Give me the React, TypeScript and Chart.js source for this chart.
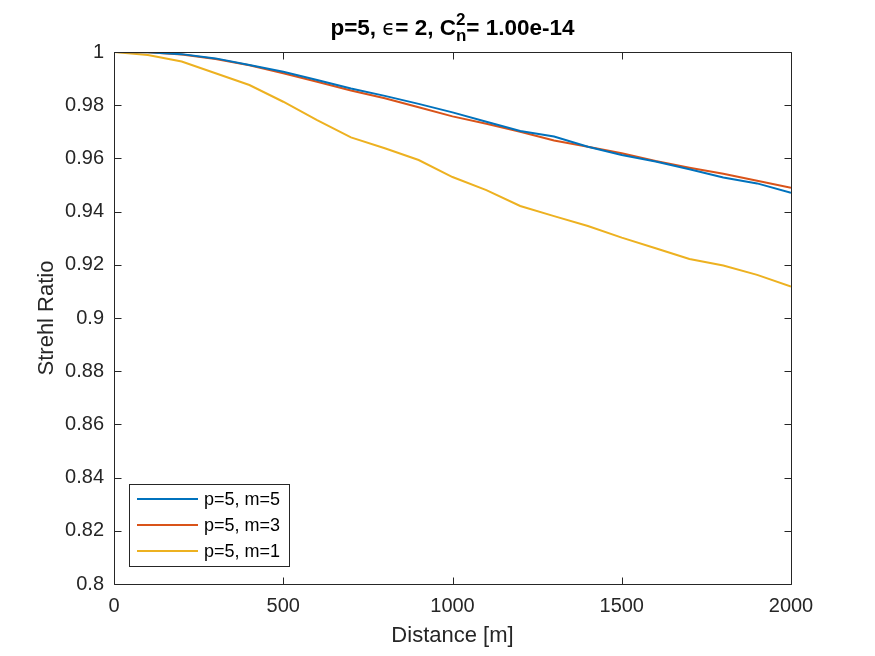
import { useEffect, useRef } from "react";
import { Chart, registerables } from "chart.js";

Chart.register(...registerables);

const W = 875;
const H = 656;

const distances = [0, 100, 200, 300, 400, 500, 600, 700, 800, 900, 1000, 1100, 1200, 1300, 1400, 1500, 1600, 1700, 1800, 1900, 2000];
const strehlM5 = [1.0, 0.9999, 0.9992, 0.9976, 0.9951, 0.9926, 0.9895, 0.9863, 0.9835, 0.9805, 0.9773, 0.9738, 0.9703, 0.9682, 0.9644, 0.9613, 0.9588, 0.9559, 0.9528, 0.9506, 0.9471];
const strehlM3 = [1.0, 0.9999, 0.9991, 0.9974, 0.995, 0.992, 0.9888, 0.9855, 0.9826, 0.9792, 0.9758, 0.973, 0.97, 0.9667, 0.9644, 0.9619, 0.959, 0.9565, 0.9542, 0.9516, 0.949];
const strehlM1 = [1.0, 0.9989, 0.9964, 0.992, 0.9876, 0.9813, 0.9744, 0.9679, 0.9638, 0.9594, 0.953, 0.9481, 0.9421, 0.9383, 0.9346, 0.9302, 0.9262, 0.9222, 0.9197, 0.9162, 0.9118];

const seriesLabels = ["p=5, m=5", "p=5, m=3", "p=5, m=1"];
const seriesColors = ["#0072BD", "#D95319", "#EDB120"];
const xTicks = [0, 500, 1000, 1500, 2000];
const yTicks = [0.8, 0.82, 0.84, 0.86, 0.88, 0.9, 0.92, 0.94, 0.96, 0.98, 1];

const FAMILY = '"Liberation Sans", Arial, Helvetica, sans-serif';
const AXIS_COLOR = "#262626";

const matlabPlugin = {
  id: "matlabDecor",
  afterDatasetsDraw(chart: any) {
    const { ctx, chartArea: a, scales } = chart;
    const xs = scales.x;
    const ys = scales.y;
    ctx.save();
    // axes box
    const L = Math.round(a.left) + 0.5;
    const R = Math.round(a.right) + 0.5;
    const T = Math.round(a.top) + 0.5;
    const B = Math.round(a.bottom) + 0.5;
    ctx.strokeStyle = AXIS_COLOR;
    ctx.lineWidth = 1;
    ctx.beginPath();
    ctx.rect(L, T, R - L, B - T);
    ctx.stroke();
    const tl = 7;
    ctx.beginPath();
    for (const v of xTicks) {
      const px = Math.round(xs.getPixelForValue(v)) + 0.5;
      ctx.moveTo(px, B);
      ctx.lineTo(px, B - tl);
      ctx.moveTo(px, T);
      ctx.lineTo(px, T + tl);
    }
    for (const v of yTicks) {
      const py = Math.round(ys.getPixelForValue(v)) + 0.5;
      ctx.moveTo(L, py);
      ctx.lineTo(L + tl, py);
      ctx.moveTo(R, py);
      ctx.lineTo(R - tl, py);
    }
    ctx.stroke();

    // legend
    const lx = 129.5, ly = 484.5, lw = 160, lh = 82;
    ctx.fillStyle = "#ffffff";
    ctx.fillRect(lx, ly, lw, lh);
    ctx.strokeStyle = AXIS_COLOR;
    ctx.strokeRect(lx, ly, lw, lh);
    ctx.font = `18px ${FAMILY}`;
    ctx.textBaseline = "middle";
    ctx.textAlign = "left";
    const rows = [499, 525, 551];
    chart.data.datasets.forEach((ds: any, i: number) => {
      ctx.strokeStyle = ds.borderColor;
      ctx.lineWidth = 2;
      ctx.beginPath();
      ctx.moveTo(137, rows[i]);
      ctx.lineTo(198, rows[i]);
      ctx.stroke();
      ctx.fillStyle = "#000000";
      ctx.fillText(ds.label, 204, rows[i] + 1);
    });

    // axis titles
    ctx.fillStyle = AXIS_COLOR;
    ctx.font = `22px ${FAMILY}`;
    ctx.textAlign = "center";
    ctx.textBaseline = "alphabetic";
    ctx.fillText("Distance [m]", (a.left + a.right) / 2, 642);
    ctx.save();
    ctx.translate(53, (a.top + a.bottom) / 2);
    ctx.rotate(-Math.PI / 2);
    ctx.fillText("Strehl Ratio", 0, 0);
    ctx.restore();

    // title with TeX-like pieces
    const fMain = `bold 22.5px ${FAMILY}`;
    const fEps = `21px "DejaVu Sans", sans-serif`;
    const fSmall = `bold 17px ${FAMILY}`;
    ctx.textAlign = "left";
    ctx.fillStyle = "#000000";
    const p1 = "p=5, ";
    const pe = "\u03F5";
    const p2 = "= 2, C";
    const sup = "2";
    const sub = "n";
    const p3 = "= 1.00e-14";
    ctx.font = fMain;
    const w1 = ctx.measureText(p1).width;
    const w2 = ctx.measureText(p2).width;
    const w3 = ctx.measureText(p3).width;
    ctx.font = fEps;
    const we = ctx.measureText(pe).width;
    ctx.font = fSmall;
    const ws = Math.max(ctx.measureText(sup).width, ctx.measureText(sub).width);
    const total = w1 + we + w2 + ws + w3;
    let cx = (a.left + a.right) / 2 - total / 2;
    const base = 35;
    ctx.font = fMain;
    ctx.fillText(p1, cx, base);
    cx += w1;
    ctx.font = fEps;
    ctx.fillText(pe, cx, base);
    cx += we;
    ctx.font = fMain;
    ctx.fillText(p2, cx, base);
    cx += w2;
    ctx.font = fSmall;
    ctx.fillText(sup, cx, base - 10);
    ctx.fillText(sub, cx, base + 6);
    cx += ws;
    ctx.font = fMain;
    ctx.fillText(p3, cx, base);
    ctx.restore();
  },
};

export default function App() {
  const ref = useRef<HTMLCanvasElement>(null);
  useEffect(() => {
    document.body.style.margin = "0";
    const canvas = ref.current;
    if (!canvas) return;
    const mk = (vals: number[]) => distances.map((d, i) => ({ x: d, y: vals[i] }));
    const chart = new Chart(canvas, {
      type: "line",
      data: {
        datasets: [
          { label: seriesLabels[0], data: mk(strehlM5), borderColor: seriesColors[0], backgroundColor: seriesColors[0], borderWidth: 2, pointRadius: 0, tension: 0 },
          { label: seriesLabels[1], data: mk(strehlM3), borderColor: seriesColors[1], backgroundColor: seriesColors[1], borderWidth: 2, pointRadius: 0, tension: 0 },
          { label: seriesLabels[2], data: mk(strehlM1), borderColor: seriesColors[2], backgroundColor: seriesColors[2], borderWidth: 2, pointRadius: 0, tension: 0 },
        ],
      },
      options: {
        responsive: false,
        animation: false,
        devicePixelRatio: 1,
        layout: { padding: { left: 0, right: 84, top: 52, bottom: 0 } },
        plugins: { legend: { display: false }, title: { display: false }, tooltip: { enabled: false } },
        scales: {
          x: {
            type: "linear",
            min: 0,
            max: 2000,
            afterFit: (s: any) => { s.height = 72; },
            afterBuildTicks: (s: any) => { s.ticks = xTicks.map((v) => ({ value: v })); },
            grid: { display: false, drawTicks: false },
            border: { display: false },
            ticks: { color: AXIS_COLOR, font: { family: FAMILY, size: 20 }, padding: 10, maxRotation: 0, callback: (v: any) => String(v) },
          },
          y: {
            type: "linear",
            min: 0.8,
            max: 1,
            afterFit: (s: any) => { s.width = 114; },
            afterBuildTicks: (s: any) => { s.ticks = yTicks.map((v) => ({ value: v })); },
            grid: { display: false, drawTicks: false },
            border: { display: false },
            ticks: { color: AXIS_COLOR, font: { family: FAMILY, size: 20 }, padding: 10, callback: (v: any) => String(+Number(v).toFixed(2)) },
          },
        },
      },
      plugins: [matlabPlugin],
    } as any);
    return () => chart.destroy();
  }, []);
  return (
    <div style={{ position: "absolute", left: 0, top: 0, width: W, height: H, background: "#ffffff" }}>
      <canvas ref={ref} width={W} height={H} style={{ width: W, height: H, display: "block" }} />
    </div>
  );
}
